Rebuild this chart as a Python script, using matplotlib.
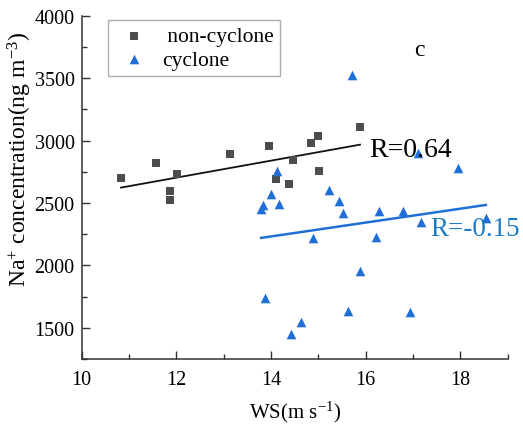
import numpy as np
import matplotlib
matplotlib.use("Agg")
import matplotlib.pyplot as plt

plt.rcParams["font.family"] = ["Liberation Serif", "DejaVu Serif"]
plt.rcParams["mathtext.fontset"] = "custom"
plt.rcParams["mathtext.rm"] = "Liberation Serif"
plt.rcParams["mathtext.it"] = "Liberation Serif:italic"

# non-cyclone samples
nc_ws = [10.83, 11.58, 11.86, 11.86, 12.02, 13.13, 13.96, 14.10, 14.38, 14.46,
         14.84, 15.00, 15.01, 15.88]
nc_na = [2700, 2823, 2596, 2527, 2730, 2895, 2959, 2690, 2655, 2845,
         2980, 3034, 2759, 3106]

# cyclone samples
cy_ws = [13.79, 13.83, 13.88, 13.99, 14.13, 14.17, 14.43, 14.64, 14.89, 15.23,
         15.43, 15.53, 15.62, 15.71, 15.88, 16.21, 16.28, 16.78, 16.93, 17.10,
         17.17, 17.94, 18.54]
cy_na = [2453, 2485, 1740, 2572, 2754, 2490, 1452, 1550, 2220, 2602,
         2516, 2420, 1638, 3525, 1955, 2226, 2439, 2439, 1625, 2901,
         2351, 2778, 2378]

# fitted lines (end points)
nc_fit_x = [10.83, 15.88]
nc_fit_y = [2623, 2967]
cy_fit_x = [13.79, 18.54]
cy_fit_y = [2220, 2484]

xticks = [10, 12, 14, 16, 18]
yticks = [1500, 2000, 2500, 3000, 3500, 4000]

gray = "#4d4d4d"
blue = "#1f6fd6"
blue_txt = "#1a7bc4"

fig = plt.figure(figsize=(5.23, 4.27), dpi=100)
ax = fig.add_axes([0.1562, 0.1569, 0.8145, 0.804])

ax.plot(nc_fit_x, nc_fit_y, color="#111111", lw=1.3, zorder=2)
ax.plot(cy_fit_x, cy_fit_y, color=blue, lw=1.8, zorder=2)
ax.scatter(nc_ws, nc_na, marker="s", s=38, color=gray, lw=0, label=" non-cyclone", zorder=3)
ax.scatter(cy_ws, cy_na, marker="^", s=48, color=blue, lw=0, label="cyclone", zorder=3)

ax.text(16.07, 2931, "R=0.64", fontsize=20, va="center", ha="left", color="black")
ax.text(17.36, 2292, "R=-0.15", fontsize=19.5, va="center", ha="left", color=blue_txt)
ax.text(17.13, 3733, "c", fontsize=17, va="center", ha="center")

ax.set_xlim(10, 19)
ax.set_ylim(1250, 4000)
ax.set_xticks(xticks)
ax.set_xticklabels([str(v) for v in xticks], fontfamily="Liberation Serif")
ax.set_xticks([11, 13, 15, 17, 19], minor=True)
ax.set_yticks(yticks)
ax.set_yticklabels([str(v) for v in yticks], fontfamily="Liberation Serif")
ax.set_yticks([1250, 1750, 2250, 2750, 3250, 3750], minor=True)

for s in ["top", "right"]:
    ax.spines[s].set_visible(False)
for s in ["left", "bottom"]:
    ax.spines[s].set_color("#333333")
    ax.spines[s].set_linewidth(1.1)

ax.tick_params(which="major", direction="in", length=6, width=1, colors="#333333",
               labelsize=14.5, labelcolor="black")
ax.tick_params(which="minor", direction="in", length=3.5, width=1, colors="#333333")
ax.tick_params(axis="x", which="major", pad=8)
ax.tick_params(axis="y", which="major", pad=5)

ax.set_xlabel("WS(m s$^{-1}$)", fontsize=15, labelpad=7)
ax.set_ylabel("Na$^{+}$ concentration(ng m$^{-3}$)", fontsize=17)
ax.yaxis.set_label_coords(-0.112, 0.585)

leg = ax.legend(loc="upper left", bbox_to_anchor=(0.062, 0.988), borderaxespad=0,
                fontsize=15.5, fancybox=False, frameon=True, handletextpad=0.4,
                borderpad=0.3, labelspacing=0.15, handlelength=1.8)
leg.get_frame().set_edgecolor("#999999")
leg.get_frame().set_linewidth(1)

fig.savefig("out.png", dpi=100)
